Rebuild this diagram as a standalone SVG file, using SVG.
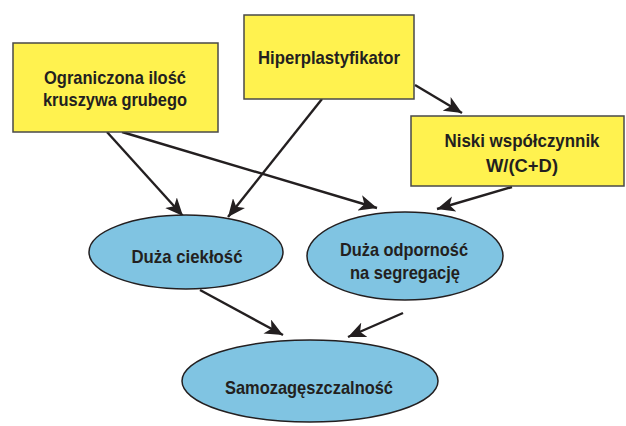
<svg xmlns="http://www.w3.org/2000/svg" width="626" height="426" viewBox="0 0 626 426">
<style>
.box{fill:#fff24f;stroke:#4a4a48;stroke-width:1.5}
.ell{fill:#80c4e2;stroke:#231f20;stroke-width:1.5}
.t{font-family:"Liberation Sans",Arial,sans-serif;font-weight:bold;font-size:19px;fill:#231f20;text-anchor:middle}
.c{stroke:#231f20;stroke-width:2.4;fill:none;marker-end:url(#ah)}
</style>
<defs>
<marker id="ah" markerUnits="userSpaceOnUse" markerWidth="20" markerHeight="16" refX="17" refY="7.5" orient="auto" viewBox="0 0 19 15">
<path d="M0,0 L17,7.5 L0,15 L4.5,7.5 z" fill="#231f20"/>
</marker>
</defs>
<rect width="626" height="426" fill="#fff"/>
<g id="connectors">
<line class="c" x1="107" y1="132" x2="183" y2="216"/>
<line class="c" x1="122" y1="132" x2="377" y2="208"/>
<line class="c" x1="322" y1="99" x2="228" y2="217"/>
<line class="c" x1="415" y1="85" x2="462" y2="113"/>
<line class="c" x1="512" y1="187" x2="437" y2="209"/>
<line class="c" x1="200" y1="290" x2="283" y2="335"/>
<line class="c" x1="403" y1="313" x2="348" y2="337"/>
</g>
<g id="n1">
<rect class="box" x="13" y="43" width="205" height="89"/>
<text class="t" x="115" y="84" textLength="142" lengthAdjust="spacingAndGlyphs">Ograniczona ilość</text>
<text class="t" x="115" y="106" textLength="144" lengthAdjust="spacingAndGlyphs">kruszywa grubego</text>
</g>
<g id="n2">
<rect class="box" x="244" y="15" width="170" height="84"/>
<text class="t" x="329" y="64" textLength="142" lengthAdjust="spacingAndGlyphs">Hiperplastyfikator</text>
</g>
<g id="n3">
<rect class="box" x="411" y="116" width="213" height="70"/>
<text class="t" x="522" y="147" textLength="155" lengthAdjust="spacingAndGlyphs">Niski współczynnik</text>
<text class="t" x="522" y="172" textLength="72" lengthAdjust="spacingAndGlyphs">W/(C+D)</text>
</g>
<g id="n4">
<ellipse class="ell" cx="186" cy="252" rx="97" ry="37"/>
<text class="t" x="187" y="263" textLength="111" lengthAdjust="spacingAndGlyphs">Duża ciekłość</text>
</g>
<g id="n5">
<ellipse class="ell" cx="405" cy="256" rx="98" ry="44"/>
<text class="t" x="404" y="256" textLength="128" lengthAdjust="spacingAndGlyphs">Duża odporność</text>
<text class="t" x="405" y="279" textLength="110" lengthAdjust="spacingAndGlyphs">na segregację</text>
</g>
<g id="n6">
<ellipse class="ell" cx="310" cy="381" rx="128" ry="41"/>
<text class="t" x="309" y="394" textLength="168" lengthAdjust="spacingAndGlyphs">Samozagęszczalność</text>
</g>
</svg>
